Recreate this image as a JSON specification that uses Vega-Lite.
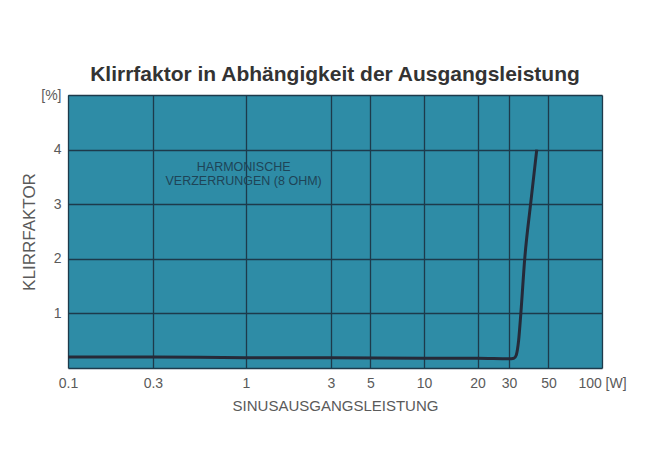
{
  "$schema": "https://vega.github.io/schema/vega-lite/v6.json",
  "width": 534,
  "height": 273,
  "autosize": {"type": "none"},
  "padding": {"left": 68, "top": 95, "right": 51, "bottom": 94},
  "background": "#ffffff",
  "title": {
    "text": "Klirrfaktor in Abhängigkeit der Ausgangsleistung",
    "font": "Liberation Sans",
    "fontSize": 21,
    "fontWeight": "bold",
    "color": "#333333",
    "anchor": "middle",
    "offset": 3
  },
  "config": {
    "view": {"fill": "#2e8ca6", "stroke": null},
    "axis": {
      "labelFont": "Liberation Sans",
      "titleFont": "Liberation Sans",
      "labelColor": "#5a5a5a",
      "titleColor": "#5a5a5a",
      "labelFontSize": 14,
      "titleFontSize": 15,
      "titleFontWeight": "normal",
      "domain": false,
      "ticks": false,
      "grid": true,
      "gridColor": "#1d3a4b",
      "gridOpacity": 1,
      "gridWidth": 1.3,
      "labelFlush": false,
      "labelOverlap": false,
      "labelBound": false
    }
  },
  "layer": [
    {
      "data": {
        "values": [
          {"power": 0.1, "thd": 0.2},
          {"power": 0.3, "thd": 0.2},
          {"power": 1, "thd": 0.19},
          {"power": 3, "thd": 0.19},
          {"power": 10, "thd": 0.18},
          {"power": 20, "thd": 0.18},
          {"power": 30, "thd": 0.17},
          {"power": 32, "thd": 0.18},
          {"power": 33, "thd": 0.24},
          {"power": 34, "thd": 0.5},
          {"power": 35, "thd": 1.0},
          {"power": 36.8, "thd": 2.0},
          {"power": 39.7, "thd": 3.0},
          {"power": 43, "thd": 4.0}
        ]
      },
      "mark": {"type": "line", "interpolate": "monotone", "color": "#262a38", "strokeWidth": 3},
      "encoding": {
        "x": {
          "field": "power",
          "type": "quantitative",
          "scale": {"type": "log", "domain": [0.1, 100]},
          "axis": {
            "values": [0.1, 0.3, 1, 3, 5, 10, 20, 30, 50, 100],
            "format": "~g",
            "labelExpr": "datum.value == 100 ? '100 [W]' : datum.label",
            "labelPadding": 8,
            "title": "SINUSAUSGANGSLEISTUNG",
            "titlePadding": 8
          }
        },
        "y": {
          "field": "thd",
          "type": "quantitative",
          "scale": {"domain": [0, 5], "nice": false},
          "axis": {
            "values": [0, 1, 2, 3, 4, 5],
            "labelExpr": "datum.value == 5 ? '[%]' : datum.value == 0 ? '' : datum.label",
            "labelPadding": 7,
            "title": "KLIRRFAKTOR",
            "titleFontSize": 17,
            "titlePadding": 2
          }
        }
      }
    },
    {
      "data": {
        "values": [
          {"power": 0.97, "thd": 3.69, "note": "HARMONISCHE"},
          {"power": 0.97, "thd": 3.42, "note": "VERZERRUNGEN (8 OHM)"}
        ]
      },
      "mark": {"type": "text", "font": "Liberation Sans", "fontSize": 12.5, "color": "#1e4457", "align": "center", "baseline": "middle"},
      "encoding": {
        "x": {"field": "power", "type": "quantitative"},
        "y": {"field": "thd", "type": "quantitative"},
        "text": {"field": "note"}
      }
    }
  ]
}
